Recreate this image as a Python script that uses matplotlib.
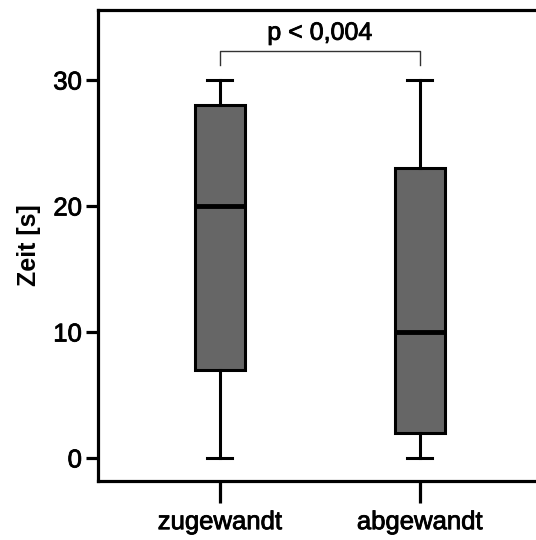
import matplotlib.pyplot as plt
import matplotlib.patheffects as pe

plt.rcParams['font.family'] = ['Liberation Sans', 'DejaVu Sans']

# Box plot summary values per group [s]
groups = ["zugewandt", "abgewandt"]
whisker_low = [0, 0]
q1 = [7, 2]
medians = [20, 10]
q3 = [28, 23]
whisker_high = [30, 30]
p_text = "p < 0,004"
bracket_top = 32.3
bracket_foot = 31.2

stats = []
for i, name in enumerate(groups):
    stats.append(dict(label=name, whislo=whisker_low[i], q1=q1[i],
                      med=medians[i], q3=q3[i], whishi=whisker_high[i],
                      fliers=[]))

fig = plt.figure(figsize=(5.36, 5.40), dpi=100)
ax = fig.add_axes([0.1828, 0.1093, 0.8284, 0.8722])

ax.bxp(stats, positions=[1, 2], widths=0.25, patch_artist=True,
       showfliers=False,
       boxprops=dict(facecolor="#666666", edgecolor="black", linewidth=2.2),
       medianprops=dict(color="black", linewidth=3.5),
       whiskerprops=dict(color="black", linewidth=2.2),
       capprops=dict(color="black", linewidth=2.2),
       capwidths=0.125)

# slightly heavier text strokes
heavy = [pe.withStroke(linewidth=0.6, foreground="black")]

# significance bracket
ax.plot([1, 1, 2, 2], [bracket_foot, bracket_top, bracket_top, bracket_foot],
        color="#333333", linewidth=1.0)
ax.text(1.5, bracket_top + 0.5, p_text, ha="center", va="bottom", fontsize=18,
        path_effects=heavy)

ax.set_xlim(0.39, 2.61)
ax.set_ylim(-1.83, 35.56)
ax.set_yticks([0, 10, 20, 30])
ax.set_ylabel("Zeit [s]", fontsize=18, fontweight="bold", labelpad=9)

for side in ["left", "bottom", "top", "right"]:
    ax.spines[side].set_linewidth(2.3)
ax.tick_params(axis="y", length=8.5, width=2.3, labelsize=18.5, pad=3)
ax.tick_params(axis="x", length=16, width=2.3, labelsize=18.5, pad=5)
for lbl in ax.get_xticklabels() + ax.get_yticklabels():
    lbl.set_path_effects(heavy)

fig.savefig("out.png", dpi=100)
